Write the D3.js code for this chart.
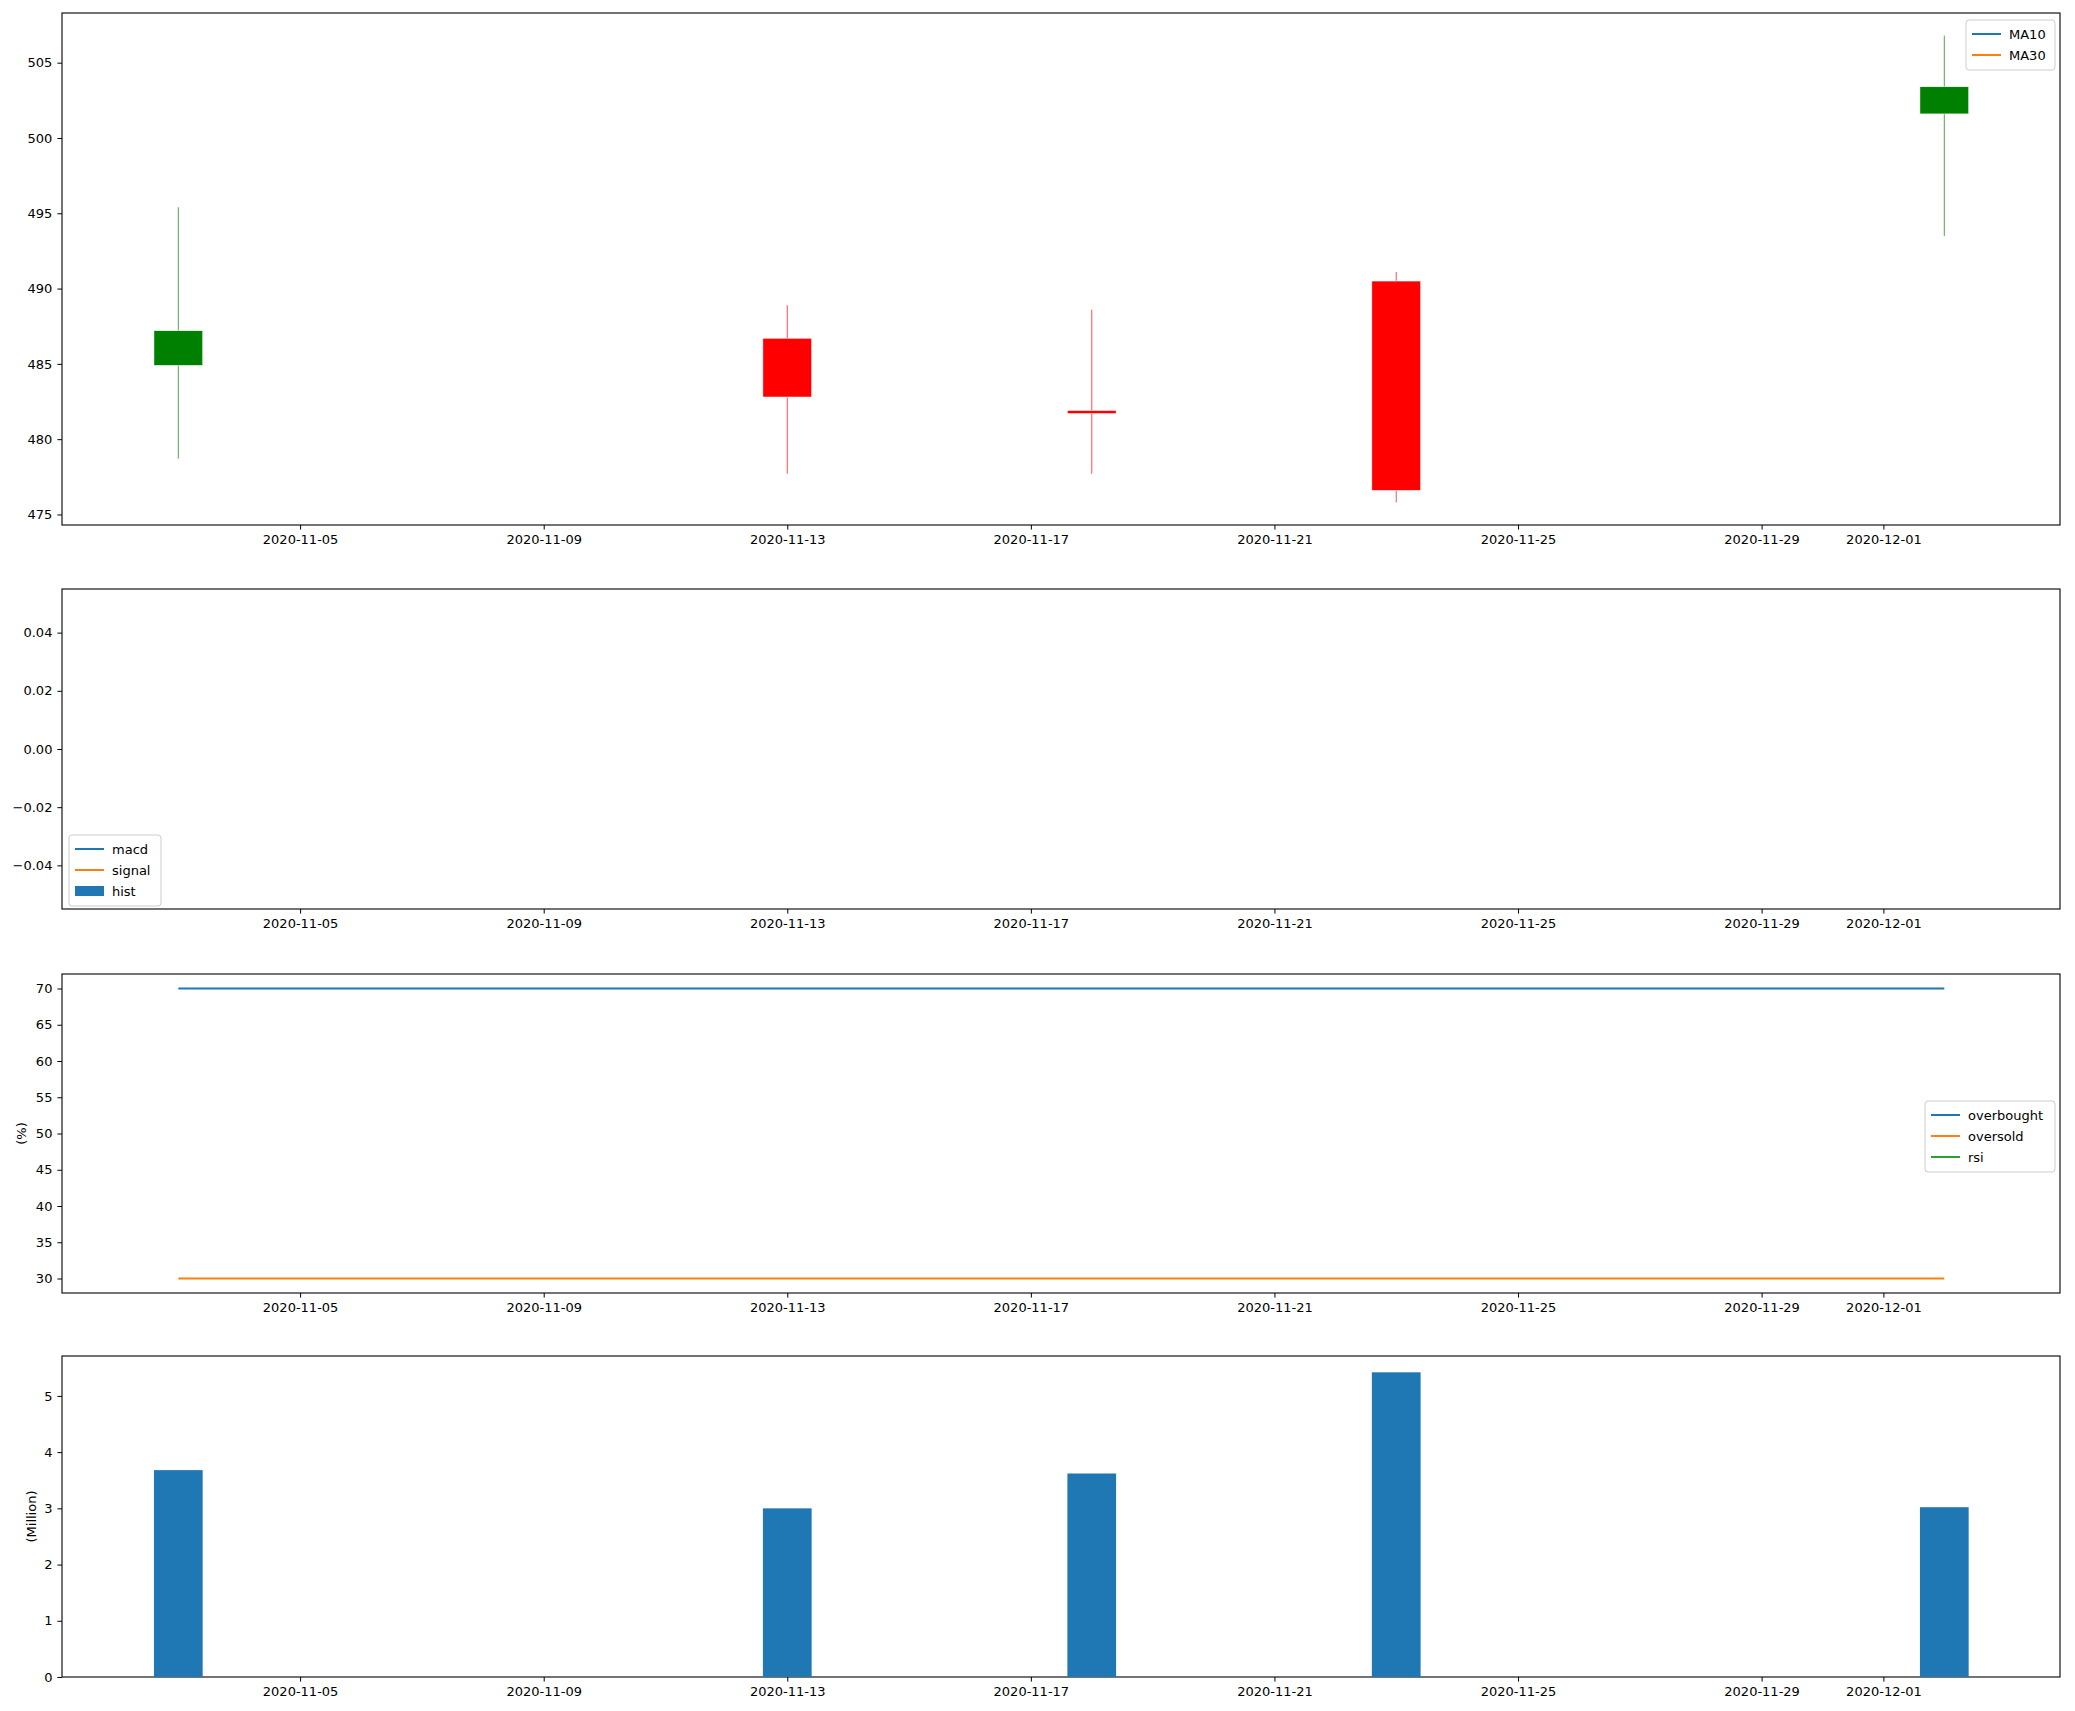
<!DOCTYPE html>
<html><head><meta charset="utf-8">
<script src="https://cdn.jsdelivr.net/npm/d3@7"></script>
<style>body{margin:0;background:#fff}svg text{font-family:"DejaVu Sans",sans-serif;font-size:13px}</style>
</head><body>
<svg id="chart" width="2075" height="1711"></svg>
<script>
var dates = ['2020-11-03','2020-11-13','2020-11-18','2020-11-23','2020-12-02'];
var opens = [484.9, 486.7, 481.9, 490.5, 501.6];
var closes = [487.2, 482.8, 481.7, 476.6, 503.4];
var highs = [495.4, 488.9, 488.6, 491.1, 506.8];
var lows = [478.7, 477.7, 477.7, 475.8, 493.5];
var volumes = [3.68, 3.00, 3.62, 5.42, 3.02];
var xTicks = ['2020-11-05','2020-11-09','2020-11-13','2020-11-17','2020-11-21','2020-11-25','2020-11-29','2020-12-01'];
var rsiLevels = [70, 30];

var svg = d3.select('#chart');
var parse = d3.utcParse('%Y-%m-%d');
var day = 864e5;
var left = 62, right = 2060;

var x = d3.scaleUtc()
    .domain([new Date(+parse('2020-11-01') + 0.09 * day), new Date(+parse('2020-12-03') + 0.9 * day)])
    .range([left, right]);
var bw = x(new Date(+parse('2020-11-01') + 0.8 * day)) - x(parse('2020-11-01'));

function panel(top, bottom, domain, ticks, fmt, label) {
    var y = d3.scaleLinear().domain(domain).range([bottom, top]);
    var g = svg.append('g');
    g.append('g').attr('transform', 'translate(0,' + bottom + ')')
        .call(d3.axisBottom(x).tickValues(xTicks.map(parse)).tickFormat(d3.utcFormat('%Y-%m-%d')).tickSize(4.6).tickPadding(5));
    g.append('g').attr('transform', 'translate(' + left + ',0)')
        .call(d3.axisLeft(y).tickValues(ticks).tickFormat(fmt).tickSize(4.6).tickPadding(5));
    g.selectAll('.domain').remove();
    g.selectAll('.tick text').style('font-size', '13px');
    g.append('rect').attr('x', left).attr('y', top).attr('width', right - left).attr('height', bottom - top)
        .attr('fill', 'none').attr('stroke', '#000').attr('stroke-width', 1.1);
    if (label) {
        g.append('text').attr('transform', 'translate(' + (label.x) + ',' + ((top + bottom) / 2) + ')rotate(-90)')
            .attr('text-anchor', 'middle').text(label.t);
    }
    return {g: g, y: y};
}

function legend(g, x0, y0, w, items) {
    var h = items.length * 21 + 8;
    g.append('rect').attr('x', x0).attr('y', y0).attr('width', w).attr('height', h).attr('rx', 3)
        .attr('fill', '#fff').attr('fill-opacity', 0.8).attr('stroke', '#ccc');
    items.forEach(function (it, i) {
        var cy = y0 + 14 + i * 21;
        if (it.bar) g.append('rect').attr('x', x0 + 6).attr('y', cy - 5).attr('width', 29).attr('height', 10).attr('fill', it.c);
        else g.append('line').attr('x1', x0 + 6).attr('x2', x0 + 35).attr('y1', cy).attr('y2', cy).attr('stroke', it.c).attr('stroke-width', 2);
        g.append('text').attr('x', x0 + 43).attr('y', cy + 5).text(it.t);
    });
}

// price panel
var p1 = panel(13, 525, [474.3, 508.3], [475, 480, 485, 490, 495, 500, 505], d3.format('d'));
dates.forEach(function (d, i) {
    var c = closes[i] >= opens[i] ? '#008000' : '#ff0000';
    var cx = x(parse(d));
    p1.g.append('line').attr('x1', cx).attr('x2', cx).attr('y1', p1.y(highs[i])).attr('y2', p1.y(lows[i]))
        .attr('stroke', c).attr('stroke-width', 0.7);
    var yt = p1.y(Math.max(opens[i], closes[i])), yb = p1.y(Math.min(opens[i], closes[i]));
    p1.g.append('rect').attr('x', cx - bw / 2).attr('y', yt).attr('width', bw).attr('height', Math.max(yb - yt, 3))
        .attr('fill', c).attr('stroke', '#fff').attr('stroke-width', 0.5);
});
legend(p1.g, 1966, 20, 89, [{t: 'MA10', c: '#1f77b4'}, {t: 'MA30', c: '#ff7f0e'}]);

// macd panel
var p2 = panel(589, 909, [-0.055, 0.055], [-0.04, -0.02, 0, 0.02, 0.04], d3.format('.2f'));
legend(p2.g, 69, 835, 92, [{t: 'macd', c: '#1f77b4'}, {t: 'signal', c: '#ff7f0e'}, {t: 'hist', c: '#1f77b4', bar: true}]);

// rsi panel
var p3 = panel(974, 1293, [28, 72], [30, 35, 40, 45, 50, 55, 60, 65, 70], d3.format('d'), {x: 26, t: '(%)'});
var rc = ['#1f77b4', '#ff7f0e'];
rsiLevels.forEach(function (v, i) {
    p3.g.append('line').attr('x1', x(parse(dates[0]))).attr('x2', x(parse(dates[dates.length - 1])))
        .attr('y1', p3.y(v)).attr('y2', p3.y(v)).attr('stroke', rc[i]).attr('stroke-width', 2);
});
legend(p3.g, 1925, 1101, 130, [{t: 'overbought', c: '#1f77b4'}, {t: 'oversold', c: '#ff7f0e'}, {t: 'rsi', c: '#2ca02c'}]);

// volume panel
var p4 = panel(1356, 1677, [0, 5.71], [0, 1, 2, 3, 4, 5], d3.format('d'), {x: 36, t: '(Million)'});
dates.forEach(function (d, i) {
    var cx = x(parse(d));
    p4.g.append('rect').attr('x', cx - bw / 2).attr('y', p4.y(volumes[i])).attr('width', bw)
        .attr('height', p4.y(0) - p4.y(volumes[i])).attr('fill', '#1f77b4');
});
</script>
</body></html>
